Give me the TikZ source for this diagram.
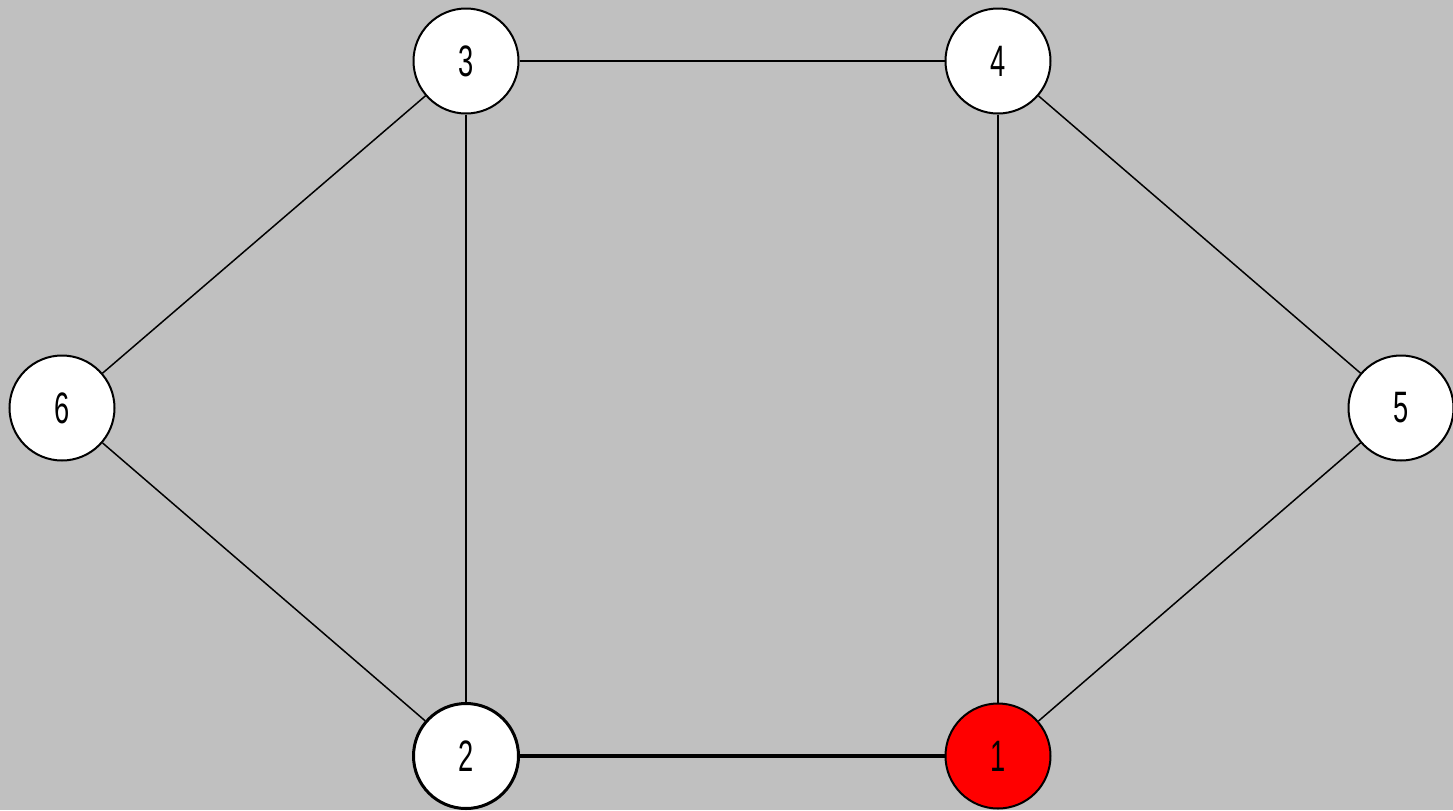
\documentclass[tikz,border=0pt]{standalone}
\usepackage{fontspec}
\setmainfont{Liberation Sans}
\newfontfamily\digitfont[FakeStretch=0.62]{Liberation Sans}
\usepackage{xcolor}
\usepackage{tikz}
\usetikzlibrary{positioning}
\definecolor{canvas}{HTML}{C0C0C0}
\definecolor{hot}{HTML}{FF0000}
\begin{document}
\begin{tikzpicture}[x=0.5pt,y=-0.5pt, every node/.style={font=\digitfont\fontsize{22}{22}\selectfont},
  v/.style={circle,draw=black,line width=1pt,fill=white,minimum size=52.5pt,inner sep=0pt},
  e/.style={draw=black,line width=0.75pt}]
  \fill[canvas] (0,0) rectangle (1453,810);
  \useasboundingbox (0,0) rectangle (1453,810);
  \node[v] (n3) at (466,61) {3};
  \node[v] (n4) at (998,61) {4};
  \node[v] (n6) at (62,408) {6};
  \node[v] (n5) at (1401,408) {5};
  \node[v,line width=1.5pt] (n2) at (466,756) {2};
  \node[v,fill=hot] (n1) at (998,756) {1};
  \draw[e] (n3)--(n4); \draw[e] (n3)--(n6); \draw[e] (n3)--(n2);
  \draw[e] (n4)--(n5); \draw[e] (n4)--(n1); \draw[e] (n6)--(n2);
  \draw[e] (n5)--(n1); \draw[e,line width=2pt] (n2)--(n1);
\end{tikzpicture}
\end{document}
